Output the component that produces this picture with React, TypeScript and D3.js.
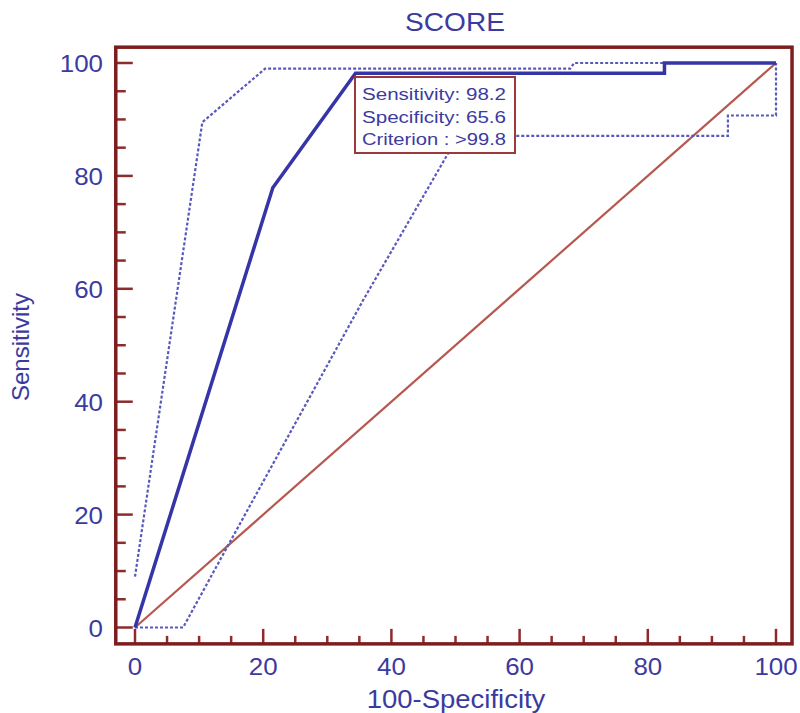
import { useEffect, useRef } from "react";
import * as d3 from "d3";

const rocX = [0, 21.5, 34.4, 82.6, 82.6, 100];
const rocY = [0, 77.9, 98.2, 98.2, 100, 100];

const upperX = [0, 10.5, 20.3, 67.9, 68.5, 100];
const upperY = [9, 89.5, 99, 99, 100, 100];

const lowerX = [0, 7.5, 14.3, 35.6, 48.7, 50.3, 92.5, 92.5, 100, 100];
const lowerY = [0, 0, 14.1, 58, 83.7, 87.1, 87.1, 90.7, 90.7, 100];

const diagX = [0, 100];
const diagY = [0, 100];

const majorTicks = [0, 20, 40, 60, 80, 100];
const minorTicks = d3.range(0, 101, 5).filter((d) => d % 20 !== 0);

const infoLines = ["Sensitivity: 98.2", "Specificity: 65.6", "Criterion : >99.8"];

const FRAME = "#7e1d1d";
const TICK = "#8e2c2c";
const BLUE = "#3535a8";
const DASH = "#5858bd";
const TEXT = "#3b3b9f";
const DIAG = "#b65850";
const FONT = "'Liberation Sans', Arial, sans-serif";

export default function App() {
  const ref = useRef<SVGSVGElement>(null);

  useEffect(() => {
    if (!ref.current) return;
    const width = 800;
    const height = 713;

    const svg = d3.select(ref.current);
    svg.selectAll("*").remove();
    svg.attr("width", width).attr("height", height);

    const x = d3.scaleLinear().domain([0, 100]).range([135, 776]);
    const y = d3.scaleLinear().domain([0, 100]).range([627.5, 63]);

    const stretch = (px: number, py: number, sx = 1.08) =>
      `translate(${px},${py}) scale(${sx},1)`;

    // title
    svg
      .append("text")
      .attr("transform", stretch(455, 31))
      .attr("text-anchor", "middle")
      .attr("font-family", FONT)
      .attr("font-size", 26)
      .attr("fill", TEXT)
      .text("SCORE");

    // axis ticks (inside the frame)
    const g = svg.append("g").attr("stroke", TICK).attr("stroke-width", 2.5);
    g.selectAll(".ymaj")
      .data(majorTicks)
      .join("line")
      .attr("x1", x(-3))
      .attr("x2", x(-3) + 17)
      .attr("y1", (d) => y(d))
      .attr("y2", (d) => y(d));
    g.selectAll(".ymin")
      .data(minorTicks)
      .join("line")
      .attr("x1", x(-3))
      .attr("x2", x(-3) + 10)
      .attr("y1", (d) => y(d))
      .attr("y2", (d) => y(d));
    g.selectAll(".xmaj")
      .data(majorTicks)
      .join("line")
      .attr("x1", (d) => x(d))
      .attr("x2", (d) => x(d))
      .attr("y1", y(-2.9))
      .attr("y2", y(-2.9) - 15);
    g.selectAll(".xmin")
      .data(minorTicks)
      .join("line")
      .attr("x1", (d) => x(d))
      .attr("x2", (d) => x(d))
      .attr("y1", y(-2.9))
      .attr("y2", y(-2.9) - 8);

    // tick labels
    svg
      .append("g")
      .selectAll("text")
      .data(majorTicks)
      .join("text")
      .attr("transform", (d) => stretch(103, y(d) + 9))
      .attr("text-anchor", "end")
      .attr("font-family", FONT)
      .attr("font-size", 24)
      .attr("fill", TEXT)
      .text((d) => `${d}`);
    svg
      .append("g")
      .selectAll("text")
      .data(majorTicks)
      .join("text")
      .attr("transform", (d) => stretch(x(d), 675))
      .attr("text-anchor", "middle")
      .attr("font-family", FONT)
      .attr("font-size", 24)
      .attr("fill", TEXT)
      .text((d) => `${d}`);

    // axis titles
    svg
      .append("text")
      .attr("transform", stretch(456, 708, 1.1))
      .attr("text-anchor", "middle")
      .attr("font-family", FONT)
      .attr("font-size", 25)
      .attr("fill", TEXT)
      .text("100-Specificity");
    svg
      .append("text")
      .attr("transform", "translate(29,347) rotate(-90)")
      .attr("text-anchor", "middle")
      .attr("font-family", FONT)
      .attr("font-size", 24)
      .attr("fill", TEXT)
      .text("Sensitivity");

    const line = d3
      .line<[number, number]>()
      .x((d) => x(d[0]))
      .y((d) => y(d[1]));
    const pts = (xs: number[], ys: number[]) =>
      xs.map((v, i) => [v, ys[i]] as [number, number]);

    // reference diagonal
    svg
      .append("path")
      .attr("d", line(pts(diagX, diagY)))
      .attr("fill", "none")
      .attr("stroke", DIAG)
      .attr("stroke-width", 2.2);

    // confidence bounds
    [pts(upperX, upperY), pts(lowerX, lowerY)].forEach((p) => {
      svg
        .append("path")
        .attr("d", line(p))
        .attr("fill", "none")
        .attr("stroke", DASH)
        .attr("stroke-width", 2.2)
        .attr("stroke-dasharray", "3,2");
    });

    // ROC curve
    svg
      .append("path")
      .attr("d", line(pts(rocX, rocY)))
      .attr("fill", "none")
      .attr("stroke", BLUE)
      .attr("stroke-width", 3.5)
      .attr("stroke-linejoin", "miter");

    // criterion box
    const bx = 355;
    const by = 77;
    svg
      .append("rect")
      .attr("x", bx)
      .attr("y", by)
      .attr("width", 160)
      .attr("height", 76)
      .attr("fill", "#fff")
      .attr("stroke", "#9a3a3a")
      .attr("stroke-width", 2);
    svg
      .append("g")
      .selectAll("text")
      .data(infoLines)
      .join("text")
      .attr("x", bx + 7)
      .attr("y", (_, i) => by + 23 + i * 22.5)
      .attr("font-family", FONT)
      .attr("font-size", 16)
      .attr("fill", TEXT)
      .attr("textLength", 144)
      .attr("lengthAdjust", "spacingAndGlyphs")
      .text((d) => d);

    // frame
    svg
      .append("rect")
      .attr("x", x(-3))
      .attr("y", y(102.8))
      .attr("width", x(102.5) - x(-3))
      .attr("height", y(-2.9) - y(102.8))
      .attr("fill", "none")
      .attr("stroke", FRAME)
      .attr("stroke-width", 3.5);
  }, []);

  return (
    <div style={{ position: "absolute", left: 0, top: 0, background: "#fff" }}>
      <svg ref={ref} style={{ display: "block" }} />
    </div>
  );
}
